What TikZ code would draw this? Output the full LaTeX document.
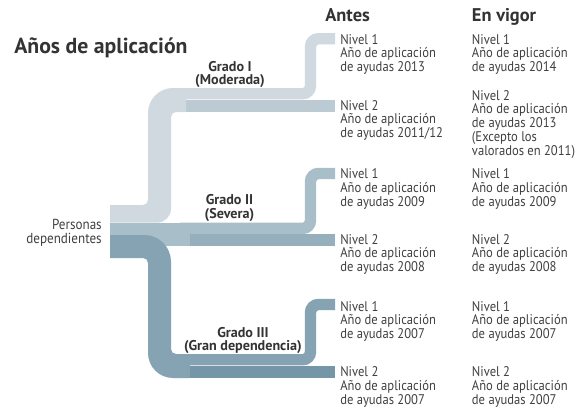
\documentclass[tikz,border=0pt]{standalone}
\usepackage{fontspec}
\setmainfont{PT Sans}[FakeStretch=0.9]
\newfontfamily\headfont{PT Sans}
\definecolor{cI}{HTML}{D0D9DF}
\definecolor{cIb}{HTML}{BCCBD3}
\definecolor{cII}{HTML}{A8BEC9}
\definecolor{cIIb}{HTML}{95AFBC}
\definecolor{cIII}{HTML}{86A3B3}
\definecolor{cIIIb}{HTML}{7596A7}
\definecolor{tcol}{HTML}{333333}
\definecolor{bcol}{HTML}{404040}
\AtBeginDocument{\lineskiplimit=-6pt\relax}
\begin{document}
\begin{tikzpicture}[x=0.75pt,y=-0.75pt,
  lvl/.style={anchor=north west, inner sep=0pt, align=left, text=bcol,
    font=\fontsize{10.5}{10.3}\selectfont},
  grado/.style={anchor=north, inner sep=0pt, align=center, text=tcol,
    font=\headfont\fontsize{10.6}{10.2}\selectfont\bfseries},
  head/.style={anchor=base west, inner sep=0pt, text=tcol,
    font=\headfont\fontsize{13.8}{16}\selectfont\bfseries},
  branch/.style={line width=8.6pt, rounded corners=6pt}]
\useasboundingbox[fill=white] (0,0) rectangle (583,407);

% sub-bands (Nivel 2)
\fill[cIb]   (186,99.5)  rectangle (335,112);
\fill[cIIb]  (186,234.2) rectangle (335,246.2);
\fill[cIIIb] (190,365.5) rectangle (335,378);

% branches (Nivel 1)
\draw[branch,cI]   (173,93.75)  -- (310.5,93.75)  -- (310.5,38.75) -- (335,38.75);
\draw[branch,cII]  (180,228.45) -- (310.5,228.45) -- (310.5,173.5) -- (335,173.5);
\draw[branch,cIII] (180,359.75) -- (310.5,359.75) -- (310.5,304.5) -- (335,304.5);

% Grado II trunk
\fill[cII] (110,222.7) rectangle (190,246.2);

% Grado I trunk
\fill[cI] (110,205) [rounded corners=3.75pt] -- (148,205)
  [rounded corners=18.75pt] -- (148,88) [sharp corners] -- (186,88) -- (186,112)
  [rounded corners=3.75pt] -- (171,112) [rounded corners=10.5pt] -- (171,222.7)
  [sharp corners] -- (110,222.7) -- cycle;

% Grado III trunk
\fill[cIII] (110,235) [rounded corners=20pt] -- (171,235)
  [rounded corners=3.75pt] -- (171,354) [sharp corners] -- (190,354) -- (190,378)
  [rounded corners=18.75pt] -- (148,378) [rounded corners=3.75pt] -- (148,258)
  [sharp corners] -- (110,258) -- cycle;

% titles
\node[anchor=base west, inner sep=0pt, text=tcol, font=\headfont\fontsize{16.3}{18}\selectfont\bfseries] (title) at (14,53) {Años de aplicación};
\node[head] (antes) at (325,21.7) {Antes};
\node[head] (vigor) at (471.7,21.7) {En vigor};

% root
\node[anchor=north east, inner sep=0pt, align=right, text=bcol,
  font=\fontsize{10.9}{11.2}\selectfont] (root) at (102,218.5) {Personas\\dependientes};

% grades
\node[grado] (g1) at (230,61) {Grado I\\(Moderada)};
\node[grado] (g2) at (229.5,194.3) {Grado II\\(Severa)};
\node[grado] (g3) at (243,326.7) {Grado III\\(Gran dependencia)};

% Antes
\node[lvl] (a11) at (340,34)    {Nivel 1\\Año de aplicación\\de ayudas 2013};
\node[lvl] (a12) at (340,100)   {Nivel 2\\Año de aplicación\\de ayudas 2011/12};
\node[lvl] (a21) at (340,168.5) {Nivel 1\\Año de aplicación\\de ayudas 2009};
\node[lvl] (a22) at (340,234)   {Nivel 2\\Año de aplicación\\de ayudas 2008};
\node[lvl] (a31) at (340,301)   {Nivel 1\\Año de aplicación\\de ayudas 2007};
\node[lvl] (a32) at (340,366.5) {Nivel 2\\Año de aplicación\\de ayudas 2007};

% En vigor
\node[lvl] (v11) at (471.7,34)    {Nivel 1\\Año de aplicación\\de ayudas 2014};
\node[lvl] (v12) at (471.7,90)    {Nivel 2\\Año de aplicación\\de ayudas 2013\\(Excepto los\\valorados en 2011)};
\node[lvl] (v21) at (471.7,168.5) {Nivel 1\\Año de aplicación\\de ayudas 2009};
\node[lvl] (v22) at (471.7,234)   {Nivel 2\\Año de aplicación\\de ayudas 2008};
\node[lvl] (v31) at (471.7,301)   {Nivel 1\\Año de aplicación\\de ayudas 2007};
\node[lvl] (v32) at (471.7,366.5) {Nivel 2\\Año de aplicación\\de ayudas 2007};
\end{tikzpicture}
\end{document}
